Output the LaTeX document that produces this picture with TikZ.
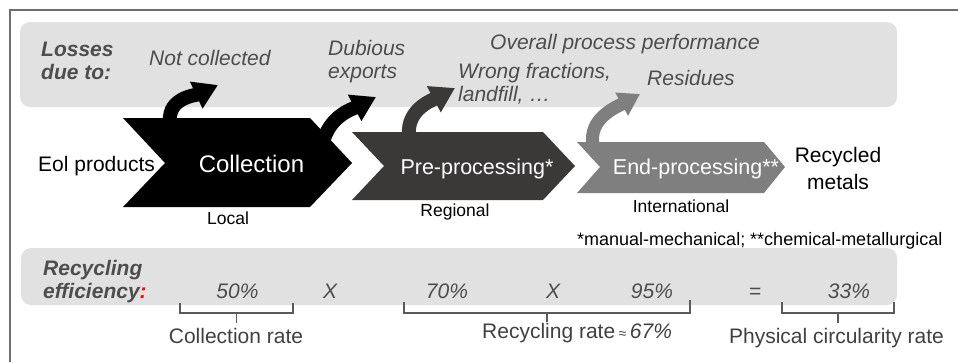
\documentclass[tikz,border=0pt]{standalone}
\usepackage{fontspec}
\setmainfont{Liberation Sans}
\usepackage{tikz}
\usetikzlibrary{arrows.meta,positioning}
\definecolor{FrameGray}{HTML}{6E6E6E}
\definecolor{PanelGray}{HTML}{E1E1E1}
\definecolor{PreGray}{HTML}{3B3838}
\definecolor{EndGray}{HTML}{7F7F7F}
\definecolor{LossText}{HTML}{4D4D4D}
\definecolor{LabelGray}{HTML}{404040}
\definecolor{BracketGray}{HTML}{5A5A5A}
\tikzset{
    % Gray background band
    panel/.style={
        fill=PanelGray,
        rounded corners=10pt
    },
    % Loss arrow leaving a stage
    lossarrow/.style={
        line width=14pt,
        -{Triangle[length=24pt,width=28pt]}
    },
    % Italic loss labels
    losstext/.style={
        text=LossText,
        font=\fontsize{21}{23}\selectfont\itshape,
        inner sep=0pt,
        align=left
    },
    % Bold italic row headings
    headtext/.style={
        text=LossText,
        font=\fontsize{21}{23}\selectfont\bfseries\itshape,
        inner sep=0pt,
        align=left
    },
    % Stage names in the chevrons
    stagetext/.style={
        text=white,
        font=\fontsize{21.5}{23}\selectfont,
        inner sep=0pt
    },
    % Black flow labels
    flowtext/.style={
        text=black,
        font=\fontsize{21}{27}\selectfont,
        inner sep=0pt,
        align=center
    },
    % Scale labels under the chevrons
    scaletext/.style={
        text=black,
        font=\fontsize{17.5}{20}\selectfont,
        inner sep=0pt
    },
    % Percentages and operators
    pcttext/.style={
        text=LossText,
        font=\fontsize{21}{23}\selectfont\itshape,
        inner sep=0pt
    },
    % Rate names under the brackets
    ratetext/.style={
        text=LabelGray,
        font=\fontsize{21}{23}\selectfont,
        inner sep=0pt
    },
    % Square brackets
    bracket/.style={
        draw=BracketGray,
        line width=1.3pt
    }
}
\begin{document}
\begin{tikzpicture}[x=1pt, y=1pt]
    \useasboundingbox (0,0) rectangle (958,-362);
    \draw[FrameGray, line width=1.5pt] (10,-362) -- (10,-10) -- (958,-10);
    \fill[panel] (20,-22) rectangle (897,-107);
    \fill[panel] (21,-248) rectangle (897,-305);

    % loss arrows
    \coordinate (out1) at (170,-121);
    \coordinate (tip1) at (218,-85);
    \coordinate (out2) at (323,-142);
    \coordinate (tip2) at (376,-97);
    \coordinate (out3) at (409,-135);
    \coordinate (tip3) at (455,-88);
    \coordinate (out4) at (593,-145);
    \coordinate (tip4) at (640,-94);
    \draw[lossarrow, black] (out1) to[out=95, in=205] (tip1);
    \draw[lossarrow, black] (out2) to[out=75, in=207] (tip2);
    \draw[lossarrow, PreGray] (out3) to[out=95, in=208] (tip3);
    \draw[lossarrow, EndGray, line width=13pt, -{Triangle[length=21pt,width=25pt]}] (out4) to[out=100, in=209] (tip4);

    % stages
    \fill[black] (123,-118) -- (310,-118) -- (352,-163) -- (310,-207) -- (123,-207) -- (165,-163) -- cycle;
    \fill[PreGray] (352,-132) -- (543,-132) -- (575,-166) -- (543,-200) -- (352,-200) -- (384,-166) -- cycle;
    \fill[EndGray] (577,-142) -- (764,-142) -- (785,-167) -- (764,-193) -- (577,-193) -- (600,-167) -- cycle;

    \node[headtext, anchor=base west] (losses) at (41,-79) {Losses\\due to:};
    \node[losstext, anchor=base west] (notcoll) at (149,-65) {Not collected};
    \node[losstext, anchor=base west] (dubious) at (328,-78) {Dubious\\exports};
    \node[losstext, anchor=base west] (overall) at (490,-49) {Overall process performance};
    \node[losstext, anchor=base west] (wrong) at (458,-101) {Wrong fractions,\\landfill, …};
    \node[losstext, anchor=base west] (resid) at (647,-85) {Residues};

    \node[flowtext, anchor=base west] (eol) at (38,-171) {Eol products};
    \node[stagetext, font=\fontsize{24}{26}\selectfont, anchor=base] (coll) at (251.5,-172) {Collection};
    \node[stagetext, anchor=base] (pre) at (477,-174) {Pre-processing*};
    \node[stagetext, anchor=base] (endp) at (696,-174) {End-processing**};
    \node[flowtext, anchor=base] (recyc) at (838,-189) {Recycled\\metals};

    \node[scaletext, anchor=base] (local) at (228,-224) {Local};
    \node[scaletext, anchor=base] (regional) at (455,-216) {Regional};
    \node[scaletext, anchor=base] (intl) at (681,-212) {International};
    \node[scaletext, font=\fontsize{18}{20}\selectfont, anchor=base west] (note) at (577,-245) {*manual-mechanical; **chemical-metallurgical};

    \node[headtext, anchor=base west] (eff) at (43,-298) {Recycling\\efficiency\textcolor{red}{:}};
    \node[pcttext, anchor=base] (p50) at (237.5,-298) {50\%};
    \node[pcttext, anchor=base] (x1) at (330,-298) {X};
    \node[pcttext, anchor=base] (p70) at (447,-298) {70\%};
    \node[pcttext, anchor=base] (x2) at (553,-298) {X};
    \node[pcttext, anchor=base] (p95) at (652,-298) {95\%};
    \node[pcttext, anchor=base] (eq) at (755,-298) {=};
    \node[pcttext, anchor=base] (p33) at (849,-298) {33\%};

    % brackets
    \draw[bracket] (180,-303) |- (293,-313) -- (293,-303);
    \draw[bracket] (404,-302) |- (690,-313) -- (690,-300);
    \draw[bracket] (782,-302) |- (894,-313) -- (894,-302);
    \coordinate (b1) at (236.5,-313);
    \coordinate (b2) at (547,-313);
    \coordinate (b3) at (838,-313);
    \draw[bracket] (b1) -- ++(0,-10);
    \draw[bracket] (b2) -- ++(0,-9);
    \draw[bracket] (b3) -- ++(0,-10);
    \node[ratetext, anchor=base] (collrate) at (236,-343) {Collection rate};
    \node[ratetext, anchor=base west] (recrate) at (482,-338) {Recycling rate\,{\fontsize{14}{16}\selectfont ≈}\,\textit{67\%}};
    \node[ratetext, anchor=base] (physrate) at (836.5,-343) {Physical circularity rate};
\end{tikzpicture}
\end{document}
